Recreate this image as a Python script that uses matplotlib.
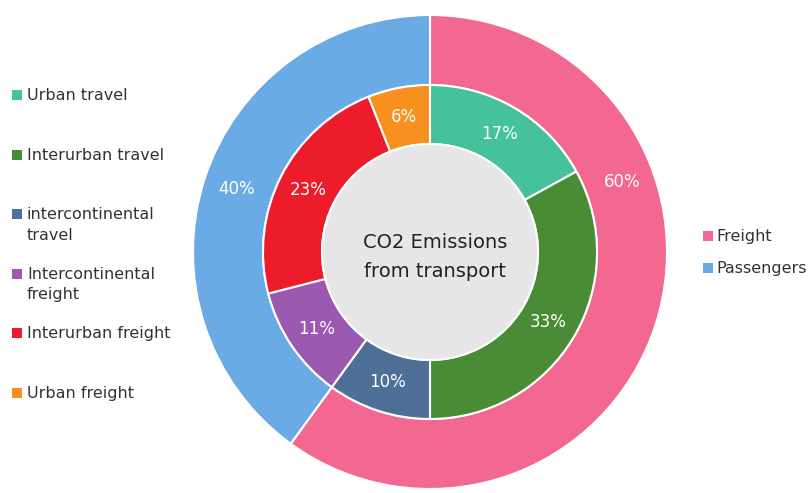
import numpy as np
import matplotlib.pyplot as plt
from matplotlib.patches import Circle, Rectangle

# Data
outer_labels = ["Freight", "Passengers"]
outer_values = [60, 40]
outer_colors = ["#f26891", "#6aabe5"]

inner_labels = ["Urban travel", "Interurban travel", "intercontinental\ntravel",
                "Intercontinental\nfreight", "Interurban freight", "Urban freight"]
inner_values = [17, 33, 10, 11, 23, 6]
inner_colors = ["#45c19b", "#4a8c35", "#4d6f98", "#9b59b0", "#ed1c2a", "#f7901e"]

center_title = "CO2 Emissions\nfrom transport"

W, H = 812, 493
fig = plt.figure(figsize=(W / 100, H / 100), dpi=100)
ax = fig.add_axes([0, 0, 1, 1])

cx, cy = 430, H - 252
r_out, r_mid, r_in = 237, 167, 108

_, outer_txt, = ax.pie(outer_values, colors=outer_colors, radius=r_out, center=(cx, cy),
                        startangle=90, counterclock=False,
                        autopct=lambda p: f"{p:.0f}%", pctdistance=0.86,
                        wedgeprops=dict(width=r_out - r_mid, edgecolor="white", linewidth=1.5),
                        textprops=dict(color="white", fontsize=12))[::2]

ax.pie(inner_values, colors=inner_colors, radius=r_mid, center=(cx, cy),
       startangle=90, counterclock=False,
       autopct=lambda p: f"{p:.0f}%", pctdistance=0.82,
       wedgeprops=dict(width=r_mid - r_in, edgecolor="white", linewidth=1.5),
       textprops=dict(color="white", fontsize=12))

# the freight label sits in the upper right part of its wedge
ang = np.deg2rad(90 - 70)
outer_txt[0].set_position((cx + 204 * np.cos(ang), cy + 204 * np.sin(ang)))

ax.add_patch(Circle((cx, cy), r_in, facecolor="#e6e6e6", edgecolor="white", linewidth=1.5))
ax.text(cx + 5, cy - 5, center_title, ha="center", va="center", fontsize=14,
        color="#222222", linespacing=1.65)

# left legend
for i, (lab, col) in enumerate(zip(inner_labels, inner_colors)):
    y = H - (95 + i * 59.6)
    ax.add_patch(Rectangle((12, y - 5), 10, 10, facecolor=col, edgecolor="none"))
    ax.text(27, y + 7, lab, ha="left", va="top", fontsize=11.5, color="#333333",
            linespacing=1.45)

# right legend
for i, (lab, col) in enumerate(zip(outer_labels, outer_colors)):
    y = H - (236 + i * 32)
    ax.add_patch(Rectangle((703, y - 5), 10, 10, facecolor=col, edgecolor="none"))
    ax.text(716, y, lab, ha="left", va="center", fontsize=11.5, color="#333333")

ax.set_xlim(0, W)
ax.set_ylim(0, H)
ax.set_aspect("equal")
ax.axis("off")

fig.savefig("out.png", dpi=100)
